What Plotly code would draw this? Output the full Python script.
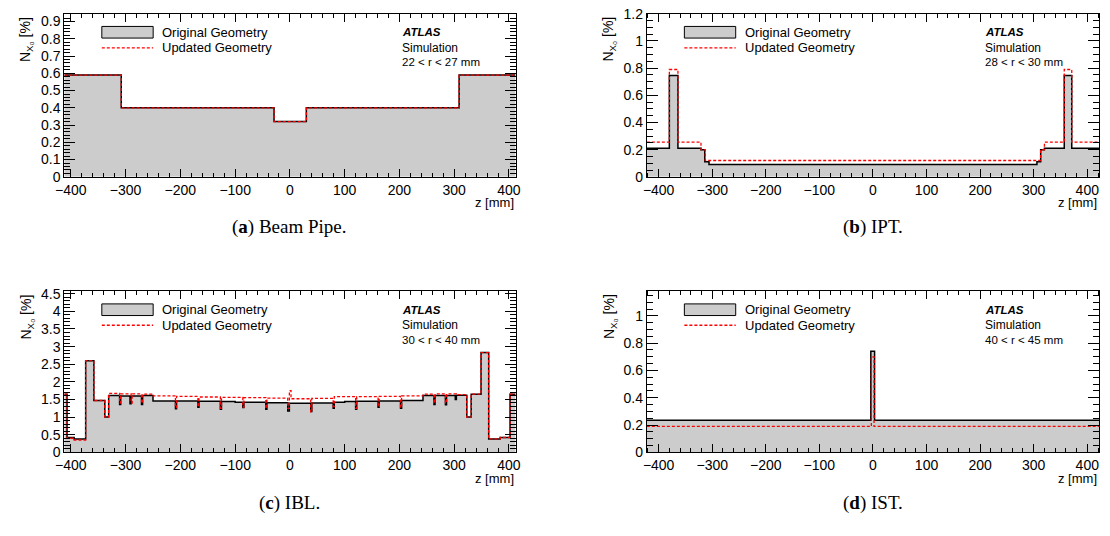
import plotly.graph_objects as go

W, H = 1110, 536

# ---------------- data ----------------
# (a) Beam pipe
bp_edges = [-412, -308, -29, 30, 309, 412]
bp_orig = [0.59, 0.40, 0.32, 0.40, 0.59]
bp_upd = [0.59, 0.40, 0.32, 0.40, 0.59]

# (b) IPT
ipt_orig_edges = [-422, -380, -364, -321, -314, -306, 306, 313, 320, 357, 371, 422]
ipt_orig = [0.21, 0.745, 0.21, 0.20, 0.11, 0.09, 0.11, 0.20, 0.21, 0.745, 0.21]
ipt_upd_edges = [-422, -380, -364, -321, -313, 313, 320, 357, 371, 422]
ipt_upd = [0.255, 0.79, 0.255, 0.20, 0.12, 0.20, 0.255, 0.79, 0.255]

# (c) IBL
ibl_orig_edges = [-412, -407, -394, -373, -358, -338, -331, -311, -309, -292, -290, -271, -269,
                  -250, -209, -207, -168, -166, -127, -125, -100, -86, -84, -44, -42, -4, -1,
                  38, 40, 79, 81, 100, 120, 122, 161, 163, 202, 204, 243, 263, 265, 284, 286,
                  302, 304, 323, 331, 349, 363, 384, 402, 412]
ibl_orig = [1.65, 0.42, 0.38, 2.60, 1.47, 1.00, 1.61, 1.36, 1.60, 1.38, 1.60, 1.36, 1.61,
            1.46, 1.24, 1.46, 1.28, 1.45, 1.22, 1.44, 1.42, 1.27, 1.42, 1.22, 1.41, 1.17,
            1.39, 1.16, 1.40, 1.25, 1.42, 1.44, 1.22, 1.45, 1.28, 1.46, 1.25, 1.47, 1.61,
            1.36, 1.61, 1.35, 1.61, 1.50, 1.62, 1.00, 1.65, 2.83, 0.38, 0.42, 1.65]
ibl_upd_edges = [-412, -407, -394, -373, -358, -338, -331, -311, -309, -290, -288, -271, -269,
                 -250, -209, -207, -168, -166, -127, -125, -86, -84, -44, -42, -4, -1, 2,
                 38, 40, 79, 81, 120, 122, 161, 163, 202, 204, 243, 263, 265, 284, 286,
                 304, 323, 331, 349, 363, 384, 402, 412]
ibl_upd = [1.65, 0.40, 0.35, 2.60, 1.47, 1.00, 1.67, 1.40, 1.66, 1.40, 1.66, 1.40, 1.65,
           1.60, 1.27, 1.59, 1.30, 1.57, 1.25, 1.56, 1.28, 1.55, 1.25, 1.54, 1.25, 1.75,
           1.52, 1.15, 1.53, 1.30, 1.58, 1.25, 1.58, 1.30, 1.59, 1.28, 1.60, 1.65, 1.40,
           1.66, 1.40, 1.66, 1.64, 1.00, 1.65, 2.83, 0.38, 0.42, 1.65]

# (d) IST
ist_orig_edges = [-422, -4, 3, 422]
ist_orig = [0.235, 0.74, 0.235]
ist_upd_edges = [-422, -3, 2, 422]
ist_upd = [0.19, 0.70, 0.19]

radius_labels = ["22 &lt; r &lt; 27 mm", "28 &lt; r &lt; 30 mm", "30 &lt; r &lt; 40 mm", "40 &lt; r &lt; 45 mm"]
captions = ["(<b>a</b>) Beam Pipe.", "(<b>b</b>) IPT.", "(<b>c</b>) IBL.", "(<b>d</b>) IST."]
legend_names = ["Original Geometry", "Updated Geometry"]
y_ranges = [0.945, 1.2, 4.57, 1.18]
y_dticks = [0.1, 0.2, 0.5, 0.2]
y_minor = [0.02, 0.05, 0.1, 0.05]
x_ranges = [412, 422, 412, 422]

panels = [
    (bp_edges, bp_orig, bp_edges, bp_upd),
    (ipt_orig_edges, ipt_orig, ipt_upd_edges, ipt_upd),
    (ibl_orig_edges, ibl_orig, ibl_upd_edges, ibl_upd),
    (ist_orig_edges, ist_orig, ist_upd_edges, ist_upd),
]

# ---------------- layout (pixels) ----------------
boxes = [  # left, right, top, bottom
    (56, 513, 6, 174),
    (646, 1104, 6, 174),
    (56, 513, 292, 458),
    (646, 1104, 292, 458),
]

SANS = "Liberation Sans, Arial, Helvetica, sans-serif"
SERIF = "Liberation Serif, Times New Roman, serif"


def px(x):
    return x / W


def py(y):
    return 1 - y / H


fig = go.Figure()
layout = dict(width=W, height=H, margin=dict(l=0, r=0, t=0, b=0),
              plot_bgcolor="white", paper_bgcolor="white", showlegend=False,
              font=dict(family=SANS, color="black"))
annotations = []
shapes = []

for i, ((eo, vo, eu, vu), (L, R, T, B)) in enumerate(zip(panels, boxes)):
    n = "" if i == 0 else str(i + 1)
    xa, ya = "x" + n, "y" + n
    fig.add_trace(go.Scatter(x=eo, y=list(vo) + [vo[-1]], mode="lines", line_shape="hv",
                             fill="tozeroy", fillcolor="#cccccc",
                             line=dict(color="black", width=1.5), xaxis=xa, yaxis=ya,
                             name=legend_names[0], hoverinfo="skip"))
    fig.add_trace(go.Scatter(x=eu, y=list(vu) + [vu[-1]], mode="lines", line_shape="hv",
                             line=dict(color="#ff0000", width=1.3, dash="3px,2px"),
                             xaxis=xa, yaxis=ya, name=legend_names[1], hoverinfo="skip"))
    layout["xaxis" + n] = dict(
        domain=[px(L), px(R)], anchor=ya, range=[-x_ranges[i], x_ranges[i]],
        tick0=0, dtick=100, ticks="inside", ticklen=8, tickwidth=1, tickcolor="black",
        minor=dict(ticks="inside", ticklen=4, dtick=20, tickcolor="black", tickwidth=1),
        showline=True, linecolor="black", linewidth=1, mirror="allticks",
        showgrid=False, zeroline=False, tickfont=dict(size=14, family=SANS))
    layout["yaxis" + n] = dict(
        domain=[py(B), py(T)], anchor=xa, range=[0, y_ranges[i]],
        tick0=0, dtick=y_dticks[i], ticks="inside", ticklen=11, tickwidth=1, tickcolor="black",
        minor=dict(ticks="inside", ticklen=6, dtick=y_minor[i], tickcolor="black", tickwidth=1),
        showline=True, linecolor="black", linewidth=1, mirror="allticks",
        showgrid=False, zeroline=False, tickfont=dict(size=14, family=SANS))

    # legend box & line
    shapes.append(dict(type="rect", xref="paper", yref="paper",
                       x0=px(L + 38), x1=px(L + 90), y0=py(T + 25), y1=py(T + 13),
                       fillcolor="#cccccc", line=dict(color="black", width=1)))
    shapes.append(dict(type="line", xref="paper", yref="paper",
                       x0=px(L + 38), x1=px(L + 90), y0=py(T + 35), y1=py(T + 35),
                       line=dict(color="#ff0000", width=1.3, dash="3px,2px")))
    annotations.append(dict(text=legend_names[0], xref="paper", yref="paper",
                            x=px(L + 97), y=py(T + 19), xanchor="left", yanchor="middle",
                            showarrow=False, font=dict(size=13, family=SANS)))
    annotations.append(dict(text=legend_names[1], xref="paper", yref="paper",
                            x=px(L + 97), y=py(T + 35), xanchor="left", yanchor="middle",
                            showarrow=False, font=dict(size=13, family=SANS)))
    # ATLAS label
    annotations.append(dict(text="<b><i>ATLAS</i></b>", xref="paper", yref="paper",
                            x=px(L + 340), y=py(T + 19), xanchor="left", yanchor="middle",
                            showarrow=False, font=dict(size=11.5, family=SANS)))
    annotations.append(dict(text="Simulation", xref="paper", yref="paper",
                            x=px(L + 340), y=py(T + 35), xanchor="left", yanchor="middle",
                            showarrow=False, font=dict(size=12, family=SANS)))
    annotations.append(dict(text=radius_labels[i], xref="paper", yref="paper",
                            x=px(L + 340), y=py(T + 50), xanchor="left", yanchor="middle",
                            showarrow=False, font=dict(size=11.5, family=SANS)))
    # axis titles
    annotations.append(dict(text="z [mm]", xref="paper", yref="paper",
                            x=px(R), y=py(B + 17), xanchor="right", yanchor="top",
                            showarrow=False, font=dict(size=13, family=SANS)))
    annotations.append(dict(text="N<sub>X₀</sub> [%]", xref="paper", yref="paper",
                            x=px(L - 38), y=py(T + 1), xanchor="center", yanchor="top",
                            textangle=-90, showarrow=False, font=dict(size=14, family=SANS)))
    # caption
    annotations.append(dict(text=captions[i], xref="paper", yref="paper",
                            x=px((L + R) / 2), y=py(B + 52), xanchor="center", yanchor="middle",
                            showarrow=False, font=dict(size=19, family=SERIF)))

layout["annotations"] = annotations
layout["shapes"] = shapes
fig.update_layout(**layout)
fig.write_html("out.html", config={"displayModeBar": False},
               post_script="document.body.style.margin='0px';document.body.style.overflow='hidden';")
